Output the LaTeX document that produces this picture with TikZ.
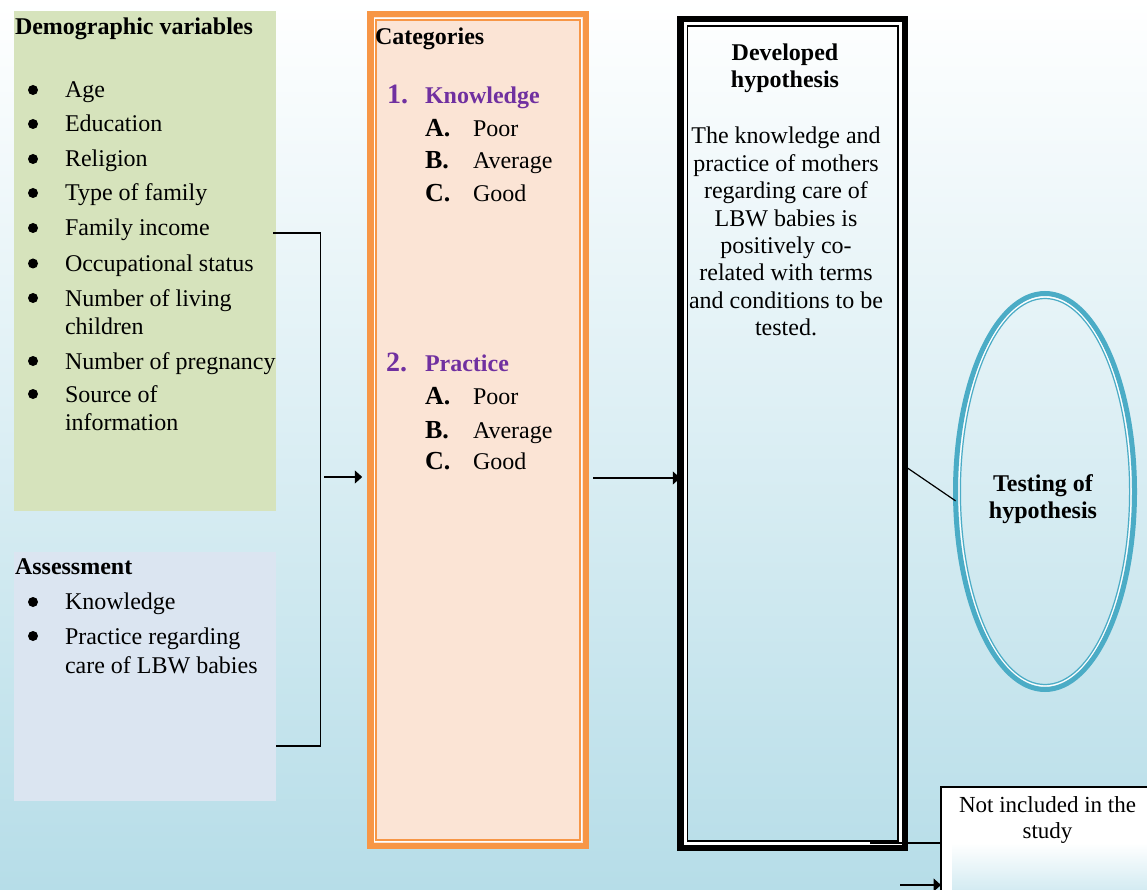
\documentclass[tikz,border=0pt]{standalone}
\usepackage{fontspec}
\setmainfont{Liberation Serif}
\usetikzlibrary{arrows.meta,shapes.geometric,calc}
\definecolor{bgblue}{HTML}{B6DDE8}
\definecolor{demgreen}{HTML}{D6E3BC}
\definecolor{assblue}{HTML}{DBE5F1}
\definecolor{catfill}{HTML}{FBE4D5}
\definecolor{catorange}{HTML}{F79646}
\definecolor{tealc}{HTML}{4BACC6}
\definecolor{purplec}{HTML}{7030A0}
\definecolor{notebl}{HTML}{D3EBF2}
\begin{document}
\begin{tikzpicture}[x=1pt,y=-1pt,
  txt/.style={inner sep=0,outer sep=0,anchor=base west,font=\fontsize{24}{27}\selectfont},
  btxt/.style={txt,font=\fontsize{24}{27}\selectfont\bfseries},
  ctr/.style={inner sep=0,outer sep=0,anchor=base,font=\fontsize{24}{27}\selectfont},
  bctr/.style={ctr,font=\fontsize{24}{27}\selectfont\bfseries},
  letter/.style={txt,font=\fontsize{26}{28}\selectfont\bfseries},
  num/.style={txt,text=purplec,font=\fontsize{28}{30}\selectfont\bfseries},
  ptxt/.style={txt,text=purplec,font=\fontsize{24}{27}\selectfont\bfseries},
  conn/.style={draw=black,line width=1.2},
  arr/.style={draw=black,line width=1.5,-{Triangle[length=7.5pt,width=13pt]}},
  bullet/.style={fill=black}
]
\useasboundingbox (0,0) rectangle (1147,890);
\shade[top color=white,bottom color=bgblue] (0,0) rectangle (1147,890);

% boxes
\node[fill=demgreen,minimum width=262,minimum height=500,inner sep=0,outer sep=0] (dem) at (145,261) {};
\node[fill=assblue,minimum width=262,minimum height=249,inner sep=0,outer sep=0] (ass) at (145,676.5) {};

\node[draw=catorange,line width=6.5,fill=catfill,minimum width=215.5,minimum height=831.5,inner sep=0,outer sep=0] (cat) at (478,430) {};
\draw[white,line width=1.3] ($(cat.north west)+(4.05,4.05)$) rectangle ($(cat.south east)+(-4.05,-4.05)$);
\draw[catorange,line width=1.5] ($(cat.north west)+(5.9,5.9)$) rectangle ($(cat.south east)+(-5.9,-5.9)$);

\node[draw=black,line width=6.5,minimum width=224.5,minimum height=828.5,inner sep=0,outer sep=0] (hyp) at (792.5,433.5) {};
\draw[white,line width=3] ($(hyp.north west)+(4.75,4.75)$) rectangle ($(hyp.south east)+(-4.75,-4.75)$);
\draw[black,line width=1.6] ($(hyp.north west)+(7.05,7.05)$) rectangle ($(hyp.south east)+(-7.05,-7.05)$);

\node[ellipse,draw=tealc,line width=5,minimum width=179,minimum height=396,inner sep=0,outer sep=0] (test) at (1045,491.5) {};
\draw[white,line width=1] (test.center) ellipse [x radius=86,y radius=194.5];
\draw[tealc,line width=1.2] (test.center) ellipse [x radius=84.6,y radius=193];

\node[draw=black,line width=1.3,fill=white,minimum width=209,minimum height=106,inner sep=0,outer sep=0] (note) at (1045.5,840) {};
\shade[top color=white,bottom color=notebl] (952,843) rectangle (1147,890);

% demographic text
\node[btxt] (demh) at (15,35) {Demographic variables};
\foreach \t/\y/\b [count=\i] in {Age/98/1,Education/132/1,Religion/167/1,Type of family/201/1,Family income/236/1,Occupational status/271.5/1,Number of living/306/1,children/334/0,Number of pregnancy/369/1,Source of/402/1,information/430/0}
{
  \node[txt] (d\i) at (65,\y) {\t};
  \ifnum\b=1 \fill[bullet] (33,{\y-8}) circle (5); \fi
}

% assessment text
\node[btxt] (assh) at (15,574) {Assessment};
\node[txt] (as1) at (65,609) {Knowledge};
\fill[bullet] (33,602) circle (5);
\node[txt] (as2) at (65,644) {Practice regarding};
\fill[bullet] (33,636) circle (5);
\node[txt] (as3) at (65,673) {care of LBW babies};

% categories text
\node[btxt] (cath) at (375,45) {Categories};
\node[num] (n1) at (387,104) {1.};
\node[ptxt] (k1) at (425,104) {Knowledge};
\node[letter] (ka) at (425,137) {A.};
\node[txt] (kat) at (473,137) {Poor};
\node[letter] (kb) at (425,169) {B.};
\node[txt] (kbt) at (473,169) {Average};
\node[letter] (kc) at (425,202) {C.};
\node[txt] (kct) at (473,202) {Good};
\node[num] (n2) at (386,371.5) {2.};
\node[ptxt] (p1) at (425,371.5) {Practice};
\node[letter] (pa) at (425,404.5) {A.};
\node[txt] (pat) at (473,404.5) {Poor};
\node[letter] (pb) at (425,438) {B.};
\node[txt] (pbt) at (473,438) {Average};
\node[letter] (pc) at (425,469.5) {C.};
\node[txt] (pct) at (473,469.5) {Good};

% hypothesis text
\node[bctr] (hh1) at (785,61) {Developed};
\node[bctr] (hh2) at (785,87.5) {hypothesis};
\foreach \t [count=\i] in {The knowledge and,practice of mothers,regarding care of,LBW babies is,positively co-,related with terms,and conditions to be,tested.}
{
  \node[ctr] (hb\i) at (786,{144+27.4*(\i-1)}) {\t};
}

% testing text
\node[bctr] (t1) at (1043,491) {Testing of};
\node[bctr] (t2) at (1043,518) {hypothesis};

% note text
\node[ctr,font=\fontsize{23}{26}\selectfont] (nt1) at (1047.5,812) {Not included in the};
\node[ctr,font=\fontsize{23}{26}\selectfont] (nt2) at (1047.5,838.5) {study};

% connectors
\coordinate (b1) at (273,233);
\coordinate (bv) at (320.5,490);
\coordinate (b2) at (276,746);
\draw[conn] (b1) -| (bv) |- (b2);

\coordinate (a1) at (324,477);
\draw[arr,shorten >=8pt] (a1) -- (cat.west |- a1);

\coordinate (a2) at (593,478);
\draw[arr] (a2) -- (hyp.west |- a2);

\coordinate (d1) at (906,467);
\draw[conn] (d1) -- (test.186);

\coordinate (h2) at (870,843);
\draw[conn] (h2) -- (note.west |- h2);

\coordinate (a3) at (900,885);
\draw[arr] (a3) -- (note.west |- a3);
\end{tikzpicture}
\end{document}
